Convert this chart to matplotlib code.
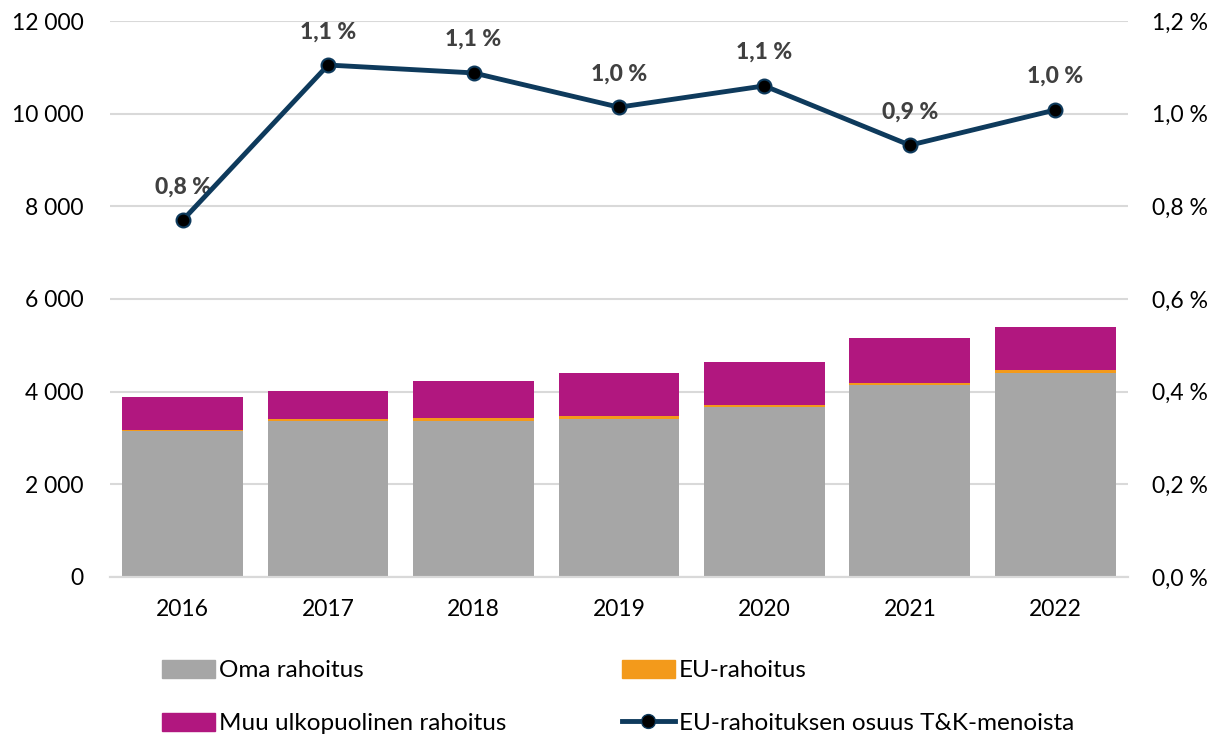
import numpy as np
import matplotlib.pyplot as plt
from matplotlib.ticker import FuncFormatter, MultipleLocator
from matplotlib.lines import Line2D
from matplotlib.patches import Patch

plt.rcParams['font.family'] = ['Lato', 'DejaVu Sans']

# Data
years = ['2016', '2017', '2018', '2019', '2020', '2021', '2022']
oma = [3150, 3375, 3375, 3420, 3665, 4145, 4400]
eu = [20, 40, 50, 50, 50, 50, 70]
muu = [720, 605, 805, 930, 925, 955, 925]
eu_share = [0.77, 1.105, 1.088, 1.014, 1.06, 0.932, 1.008]
share_labels = ['0,8 %', '1,1 %', '1,1 %', '1,0 %', '1,1 %', '0,9 %', '1,0 %']

c_oma = '#a6a6a6'
c_eu = '#f39a1b'
c_muu = '#b1177f'
c_line = '#0e3a5c'
c_grid = '#d9d9d9'

fig = plt.figure(figsize=(12.23, 7.35), dpi=100)
ax = fig.add_axes([0.0899, 0.215, 0.8324, 0.7564])
ax2 = ax.twinx()

x = np.arange(len(years))
w = 0.83
ax.bar(x, oma, w, color=c_oma, zorder=2)
ax.bar(x, eu, w, bottom=oma, color=c_eu, zorder=2)
bottom2 = np.array(oma) + np.array(eu)
ax.bar(x, muu, w, bottom=bottom2, color=c_muu, zorder=2)

ax.set_xlim(-0.5, len(years) - 0.5)
ax.set_ylim(0, 12000)
ax.yaxis.set_major_locator(MultipleLocator(2000))
ax.yaxis.set_major_formatter(FuncFormatter(lambda v, p: f'{int(v):,}'.replace(',', ' ')))
ax.grid(axis='y', color=c_grid, linewidth=1.5, zorder=0)
ax.set_axisbelow(True)
ax.set_xticks(x)
ax.set_xticklabels(years)

ax2.plot(x, eu_share, color=c_line, linewidth=3.5, marker='o', markersize=10,
         markerfacecolor='black', markeredgecolor=c_line, markeredgewidth=1.5, zorder=5)
ax2.set_ylim(0, 1.2)
ax2.yaxis.set_major_locator(MultipleLocator(0.2))
ax2.yaxis.set_major_formatter(FuncFormatter(lambda v, p: f'{v:.1f} %'.replace('.', ',')))

for xi, yi, lab in zip(x, eu_share, share_labels):
    ax2.annotate(lab, (xi, yi), xytext=(0, 24), textcoords='offset points',
                 ha='center', va='center', fontsize=16.5, fontweight='black', color='#404040')

for a in (ax, ax2):
    for s in ('top', 'left', 'right'):
        a.spines[s].set_visible(False)
    a.spines['bottom'].set_color(c_grid)
    a.spines['bottom'].set_linewidth(1.5)
    a.tick_params(length=0, labelsize=16.5, colors='black')

ax.tick_params(axis='y', pad=19)
ax.tick_params(axis='x', pad=16)
ax2.tick_params(axis='y', pad=17)

h_oma = Patch(color=c_oma)
h_eu = Patch(color=c_eu)
h_muu = Patch(color=c_muu)
h_line = Line2D([], [], color=c_line, linewidth=3.5, marker='o', markersize=10,
                markerfacecolor='black', markeredgecolor=c_line)

leg_kw = dict(frameon=False, fontsize=17.5, handlelength=2.2, handleheight=0.75,
              handletextpad=0.15, labelspacing=1.3, loc='upper left', borderaxespad=0)
fig.legend([h_oma, h_muu], ['Oma rahoitus', 'Muu ulkopuolinen rahoitus'],
           bbox_to_anchor=(152 / 1223, 1 - 650 / 735), **leg_kw)
fig.legend([h_eu, h_line], ['EU-rahoitus', 'EU-rahoituksen osuus T&K-menoista'],
           bbox_to_anchor=(612 / 1223, 1 - 650 / 735), **leg_kw)

fig.savefig('out.png', dpi=100)
